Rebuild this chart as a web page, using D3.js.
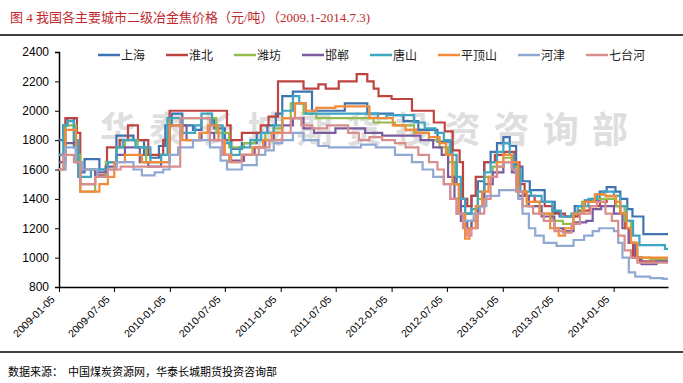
<!DOCTYPE html>
<html>
<head>
<meta charset="utf-8">
<script src="https://cdn.jsdelivr.net/npm/d3@7"></script>
<style>
body{margin:0;background:#fff;}
svg{display:block;}
</style>
</head>
<body>
<svg id="canvas" width="683" height="383"></svg>
<script>
const width = 683;
const height = 383;

// chart data (step changes: [date, price])
const seriesNames = ["上海","淮北","潍坊","邯郸","唐山","平顶山","河津","七台河"];
const seriesColors = ["#3F74B3","#BE4441","#94BA50","#7A5C9E","#3FA5C0","#F38B3A","#8FA9D3","#D98E8E"];
const tickDates = ["2009-01-05","2009-07-05","2010-01-05","2010-07-05","2011-01-05","2011-07-05",
                   "2012-01-05","2012-07-05","2013-01-05","2013-07-05","2014-01-05"];
const yTicks = [800,1000,1200,1400,1600,1800,2000,2200,2400];
const startDate = "2009-01-05";
const endDate = "2014-07-03";

const shanghai = [["2009-01-05",1800],["2009-01-19",1900],["2009-02-02",1950],["2009-02-23",1750],["2009-03-09",1580],
  ["2009-03-30",1670],["2009-05-18",1600],["2009-06-15",1650],["2009-07-13",1830],["2009-09-07",1800],["2009-10-12",1700],
  ["2009-11-02",1680],["2009-11-30",1760],["2009-12-21",1900],["2010-01-11",1980],["2010-02-15",1900],["2010-03-22",1870],
  ["2010-04-19",1950],["2010-05-31",1880],["2010-07-05",1800],["2010-07-26",1740],["2010-08-30",1780],["2010-10-18",1850],
  ["2010-11-22",1900],["2010-12-20",1980],["2011-01-10",2100],["2011-02-14",2130],["2011-04-18",2000],["2011-08-04",2050],
  ["2011-10-17",1980],["2012-01-09",1970],["2012-02-13",1930],["2012-04-02",1870],["2012-06-04",1790],["2012-07-23",1650],
  ["2012-08-06",1500],["2012-08-20",1350],["2012-09-03",1300],["2012-09-24",1420],["2012-10-15",1520],["2012-11-05",1650],
  ["2012-11-26",1720],["2012-12-17",1780],["2013-01-07",1820],["2013-01-28",1760],["2013-02-18",1620],["2013-03-11",1520],
  ["2013-04-04",1460],["2013-05-23",1380],["2013-06-25",1310],["2013-07-11",1280],["2013-08-30",1350],["2013-10-02",1390],
  ["2013-11-20",1450],["2013-12-13",1480],["2014-01-11",1450],["2014-01-27",1400],["2014-02-19",1330],["2014-03-08",1280],
  ["2014-04-13",1160],["2014-07-03",1160]];

const huaibei = [["2009-01-05",1700],["2009-01-26",1950],["2009-03-05",1850],["2009-03-16",1600],["2009-05-04",1560],
  ["2009-06-12",1750],["2009-07-24",1800],["2009-08-20",1900],["2009-09-22",1800],["2009-10-26",1700],["2009-12-14",1800],
  ["2010-01-04",2000],["2010-07-12",1900],["2010-07-24",1800],["2010-08-30",1850],["2010-10-31",1900],["2010-11-26",1960],
  ["2010-12-27",2200],["2011-03-21",2150],["2011-05-09",2180],["2011-06-02",2150],["2011-07-15",2200],["2011-09-12",2250],
  ["2011-10-17",2200],["2011-11-07",2150],["2011-11-23",2100],["2012-01-05",2080],["2012-03-12",2000],["2012-05-23",1920],
  ["2012-06-28",1860],["2012-07-24",1730],["2012-08-16",1650],["2012-08-27",1400],["2012-09-10",1350],["2012-09-24",1420],
  ["2012-10-08",1550],["2012-11-05",1650],["2012-12-10",1700],["2013-01-10",1720],["2013-02-13",1650],["2013-03-01",1500],
  ["2013-03-18",1420],["2013-04-20",1380],["2013-05-23",1350],["2013-06-18",1300],["2013-07-29",1280],["2013-09-09",1320],
  ["2013-10-18",1350],["2013-11-21",1380],["2013-12-13",1400],["2014-01-10",1350],["2014-01-27",1300],["2014-02-12",1200],
  ["2014-02-24",1100],["2014-03-10",1000],["2014-04-01",975],["2014-07-03",975]];

const weifang = [["2009-01-05",1650],["2009-01-26",1900],["2009-03-02",1700],["2009-03-16",1450],["2009-05-04",1550],
  ["2009-06-08",1650],["2009-07-13",1750],["2009-08-10",1800],["2009-09-21",1750],["2009-10-19",1650],["2009-12-07",1700],
  ["2010-01-04",1950],["2010-06-07",1850],["2010-07-19",1750],["2010-09-06",1780],["2010-10-11",1800],["2010-11-15",1850],
  ["2010-12-13",1880],["2011-01-10",1950],["2011-02-07",2050],["2011-03-21",1980],["2011-05-02",1950],["2011-11-07",1920],
  ["2012-01-16",1900],["2012-03-19",1850],["2012-05-07",1800],["2012-06-11",1750],["2012-07-09",1650],["2012-07-30",1500],
  ["2012-08-20",1300],["2012-09-03",1200],["2012-09-24",1250],["2012-10-15",1400],["2012-11-05",1550],["2012-12-03",1620],
  ["2013-01-07",1680],["2013-02-04",1620],["2013-02-25",1450],["2013-03-25",1350],["2013-05-06",1300],["2013-06-17",1250],
  ["2013-07-22",1230],["2013-08-26",1300],["2013-09-23",1380],["2013-10-28",1400],["2014-01-13",1350],["2014-02-10",1250],
  ["2014-03-03",1100],["2014-03-24",1000],["2014-05-05",990],["2014-07-03",990]];

const handan = [["2009-01-05",1650],["2009-01-26",1780],["2009-03-02",1650],["2009-03-16",1500],["2009-05-04",1580],
  ["2009-06-08",1620],["2009-07-13",1700],["2009-08-10",1750],["2009-09-28",1650],["2009-10-26",1620],["2009-12-07",1650],
  ["2010-01-04",1900],["2010-03-01",1800],["2010-04-19",1850],["2010-05-31",1800],["2010-06-28",1700],["2010-07-19",1660],
  ["2010-09-06",1700],["2010-10-11",1750],["2010-11-15",1800],["2010-12-13",1850],["2011-01-10",1900],["2011-02-14",1950],
  ["2011-03-21",1880],["2011-04-25",1850],["2011-07-04",1880],["2011-10-10",1850],["2011-12-05",1830],["2012-04-09",1800],
  ["2012-05-21",1750],["2012-06-18",1700],["2012-07-09",1550],["2012-07-30",1400],["2012-08-20",1250],["2012-09-10",1200],
  ["2012-09-24",1250],["2012-10-15",1350],["2012-11-05",1500],["2012-12-03",1580],["2013-01-07",1650],["2013-02-04",1580],
  ["2013-02-25",1420],["2013-04-01",1350],["2013-05-13",1280],["2013-06-24",1200],["2013-07-22",1180],["2013-08-26",1240],
  ["2013-10-07",1250],["2013-10-28",1330],["2013-11-25",1350],["2014-01-06",1300],["2014-02-03",1200],["2014-02-24",1100],
  ["2014-03-17",1000],["2014-04-07",955],["2014-05-26",975],["2014-07-03",975]];

const tangshan = [["2009-01-05",1700],["2009-01-19",1900],["2009-02-02",1930],["2009-02-23",1800],["2009-03-09",1550],
  ["2009-04-20",1600],["2009-06-15",1650],["2009-07-13",1750],["2009-08-03",1800],["2009-09-14",1750],["2009-11-02",1650],
  ["2009-12-07",1700],["2009-12-28",1950],["2010-02-15",1850],["2010-03-29",1900],["2010-04-19",1980],["2010-05-24",1900],
  ["2010-06-28",1780],["2010-07-26",1700],["2010-08-23",1750],["2010-09-27",1800],["2010-11-01",1850],["2010-12-13",1900],
  ["2011-01-10",2000],["2011-02-14",2100],["2011-03-07",2050],["2011-03-28",1980],["2011-11-21",1950],["2011-12-19",1970],
  ["2012-03-19",1920],["2012-04-23",1880],["2012-05-28",1850],["2012-06-25",1800],["2012-07-16",1700],["2012-08-06",1550],
  ["2012-08-20",1400],["2012-09-03",1300],["2012-09-24",1330],["2012-10-15",1450],["2012-11-05",1580],["2012-11-26",1650],
  ["2012-12-17",1720],["2013-01-07",1780],["2013-01-28",1700],["2013-02-11",1600],["2013-03-04",1450],["2013-04-08",1420],
  ["2013-05-13",1380],["2013-06-17",1320],["2013-07-15",1280],["2013-08-19",1300],["2013-09-09",1350],["2013-10-14",1400],
  ["2013-11-11",1430],["2013-12-02",1450],["2014-01-06",1420],["2014-01-27",1350],["2014-02-17",1250],["2014-03-10",1150],
  ["2014-03-31",1085],["2014-06-23",1060],["2014-07-03",1060]];

const pingdingshan = [["2009-01-05",1600],["2009-01-26",1870],["2009-03-02",1650],["2009-03-16",1450],["2009-05-18",1500],
  ["2009-06-15",1550],["2009-07-06",1650],["2009-08-10",1700],["2009-10-05",1650],["2010-01-04",1900],["2010-02-15",1800],
  ["2010-04-12",1850],["2010-05-10",1900],["2010-06-14",1800],["2010-07-05",1700],["2010-07-26",1650],["2010-08-30",1700],
  ["2010-10-04",1750],["2010-11-08",1800],["2010-12-06",1850],["2011-01-10",1950],["2011-02-21",2050],["2011-03-28",2000],
  ["2011-05-02",2020],["2011-07-04",2030],["2011-10-24",1950],["2012-01-09",1900],["2012-02-20",1870],["2012-03-26",1850],
  ["2012-05-07",1820],["2012-06-11",1780],["2012-07-02",1700],["2012-07-23",1500],["2012-08-13",1300],["2012-09-03",1130],
  ["2012-09-17",1200],["2012-10-08",1350],["2012-10-29",1450],["2012-11-19",1550],["2012-12-17",1650],["2013-01-07",1700],
  ["2013-02-04",1650],["2013-02-25",1450],["2013-03-25",1380],["2013-05-06",1300],["2013-06-10",1200],["2013-07-08",1150],
  ["2013-07-29",1200],["2013-08-26",1300],["2013-09-30",1380],["2013-11-04",1430],["2013-12-09",1420],["2014-01-13",1380],
  ["2014-01-27",1300],["2014-02-17",1200],["2014-03-03",1100],["2014-03-24",1000],["2014-07-03",1000]];

const hejin = [["2009-01-05",1600],["2009-01-26",1750],["2009-03-02",1650],["2009-03-23",1600],["2009-05-11",1550],
  ["2009-06-15",1600],["2009-07-13",1650],["2009-09-07",1600],["2009-10-05",1560],["2009-11-16",1580],["2009-12-14",1600],
  ["2010-01-04",1700],["2010-02-01",1750],["2010-03-22",1800],["2010-05-17",1750],["2010-06-21",1660],["2010-07-12",1600],
  ["2010-08-30",1630],["2010-10-18",1700],["2010-11-15",1730],["2010-12-13",1780],["2011-01-10",1800],["2011-02-14",1850],
  ["2011-03-21",1800],["2011-05-09",1760],["2011-06-13",1750],["2011-09-26",1770],["2011-11-14",1750],["2012-01-16",1700],
  ["2012-03-12",1650],["2012-04-16",1600],["2012-05-21",1550],["2012-06-25",1500],["2012-07-16",1400],["2012-08-06",1300],
  ["2012-08-27",1250],["2012-10-01",1300],["2012-10-22",1350],["2012-11-12",1420],["2012-12-24",1460],["2013-02-25",1400],
  ["2013-03-11",1300],["2013-04-01",1200],["2013-04-22",1150],["2013-05-20",1100],["2013-07-01",1080],["2013-08-26",1120],
  ["2013-09-30",1150],["2013-10-28",1180],["2013-11-18",1200],["2014-01-06",1180],["2014-01-20",1100],["2014-02-03",1000],
  ["2014-02-24",900],["2014-03-17",870],["2014-05-05",860],["2014-06-16",855],["2014-07-03",855]];

const qitaihe = [["2009-01-05",1600],["2009-01-19",1700],["2009-02-23",1650],["2009-03-16",1500],["2009-05-04",1550],
  ["2009-06-15",1600],["2009-07-27",1620],["2010-02-08",1950],["2010-05-17",1800],["2010-06-28",1700],["2010-07-19",1650],
  ["2010-08-30",1700],["2010-10-25",1750],["2010-11-29",1800],["2011-01-10",1850],["2011-02-07",1950],["2011-03-14",1900],
  ["2011-04-18",1880],["2011-06-06",1900],["2011-08-15",1850],["2011-09-19",1800],["2011-10-24",1820],["2011-12-05",1800],
  ["2012-01-16",1780],["2012-02-20",1750],["2012-04-02",1700],["2012-05-07",1650],["2012-06-04",1600],["2012-06-25",1500],
  ["2012-07-16",1400],["2012-08-06",1300],["2012-08-27",1200],["2012-09-10",1150],["2012-09-24",1200],["2012-10-15",1300],
  ["2012-11-05",1400],["2012-11-26",1550],["2012-12-17",1620],["2013-01-07",1650],["2013-02-04",1600],["2013-02-18",1450],
  ["2013-03-11",1350],["2013-04-15",1300],["2013-05-20",1250],["2013-06-24",1180],["2013-07-22",1170],["2013-08-19",1230],
  ["2013-09-16",1300],["2013-10-21",1350],["2013-11-11",1380],["2013-12-09",1300],["2013-12-30",1250],["2014-01-20",1150],
  ["2014-02-10",1050],["2014-03-03",1000],["2014-03-24",966],["2014-07-03",966]];

const seriesValues = [shanghai, huaibei, weifang, handan, tangshan, pingdingshan, hejin, qitaihe];

const parseDate = d3.timeParse("%Y-%m-%d");
const svg = d3.select("#canvas");

// plot box
const plot = {left:59, right:668, top:52, bottom:287};

const x = d3.scaleTime()
    .domain([parseDate(startDate), parseDate(endDate)])
    .range([plot.left, plot.right]);

const y = d3.scaleLinear()
    .domain([800, 2400])
    .range([plot.bottom, plot.top]);

// title + rules
svg.append("text")
    .attr("x", 10).attr("y", 22)
    .attr("fill", "#C0282D")
    .style("font-family", "'Liberation Serif','Noto Sans CJK SC'")
    .style("font-size", "13px")
    .text("图 4 我国各主要城市二级冶金焦价格（元/吨）（2009.1-2014.7.3)");

svg.append("line").attr("x1",0).attr("x2",width).attr("y1",35).attr("y2",35)
    .attr("stroke","#000").attr("stroke-width",1.5);
svg.append("line").attr("x1",0).attr("x2",width).attr("y1",352).attr("y2",352)
    .attr("stroke","#000").attr("stroke-width",1.5);

svg.append("text")
    .attr("x", 8).attr("y", 376)
    .style("font-family", "'Noto Sans CJK SC'")
    .style("font-size", "11px")
    .text("数据来源：");
svg.append("text")
    .attr("x", 68).attr("y", 376)
    .style("font-family", "'Noto Sans CJK SC'")
    .style("font-size", "11px")
    .text("中国煤炭资源网，华泰长城期货投资咨询部");

// watermark
svg.append("text")
    .attr("x", 100).attr("y", 143)
    .attr("fill", "#DEDEDE")
    .attr("textLength", 528)
    .style("font-family", "'Noto Sans CJK SC'")
    .style("font-size", "36px")
    .style("font-weight", "bold")
    .text("华泰长城期货投资咨询部");

// axes
const yAxis = d3.axisLeft(y).tickValues(yTicks).tickFormat(d3.format("d")).tickSize(4).tickPadding(6);
const gy = svg.append("g")
    .attr("transform", `translate(${plot.left},0)`)
    .call(yAxis);
gy.select(".domain").attr("stroke","#000").attr("stroke-width",1.5);
gy.selectAll("text")
    .style("font-family","'Liberation Sans'")
    .style("font-size","12px")
    .attr("fill","#000");

const xAxis = d3.axisBottom(x)
    .tickValues(tickDates.map(parseDate))
    .tickFormat(d3.timeFormat("%Y-%m-%d"))
    .tickSize(5)
    .tickSizeOuter(0);
const gx = svg.append("g")
    .attr("transform", `translate(0,${plot.bottom})`)
    .call(xAxis);
gx.select(".domain").attr("stroke","#000").attr("stroke-width",1.5);
gx.selectAll("text")
    .style("font-family","'Liberation Sans'")
    .style("font-size","10.5px")
    .attr("fill","#000")
    .attr("text-anchor","end")
    .attr("dy", null)
    .attr("y", null)
    .attr("transform","translate(-4,13) rotate(-45)");

// lines
const line = d3.line()
    .x(d => x(parseDate(d[0])))
    .y(d => y(d[1]))
    .curve(d3.curveStepAfter);

svg.append("g")
    .selectAll("path")
    .data(seriesValues)
    .enter()
    .append("path")
    .attr("d", line)
    .attr("fill","none")
    .attr("stroke", (d,i) => seriesColors[i])
    .attr("stroke-width", 2.2)
    .attr("stroke-linejoin","miter");

// legend
let lx = 98;
const legend = svg.append("g");
seriesNames.forEach((name, i) => {
    const g = legend.append("g").attr("transform", `translate(${lx},55)`);
    g.append("line").attr("x1",0).attr("x2",22).attr("y1",0).attr("y2",0)
        .attr("stroke", seriesColors[i]).attr("stroke-width", 2.5);
    g.append("text").attr("x",23).attr("y",4.5)
        .style("font-family","'Noto Sans CJK SC'")
        .style("font-size","12px")
        .attr("fill","#222")
        .text(name);
    lx += 44 + 12 * name.length;
});
</script>
</body>
</html>
